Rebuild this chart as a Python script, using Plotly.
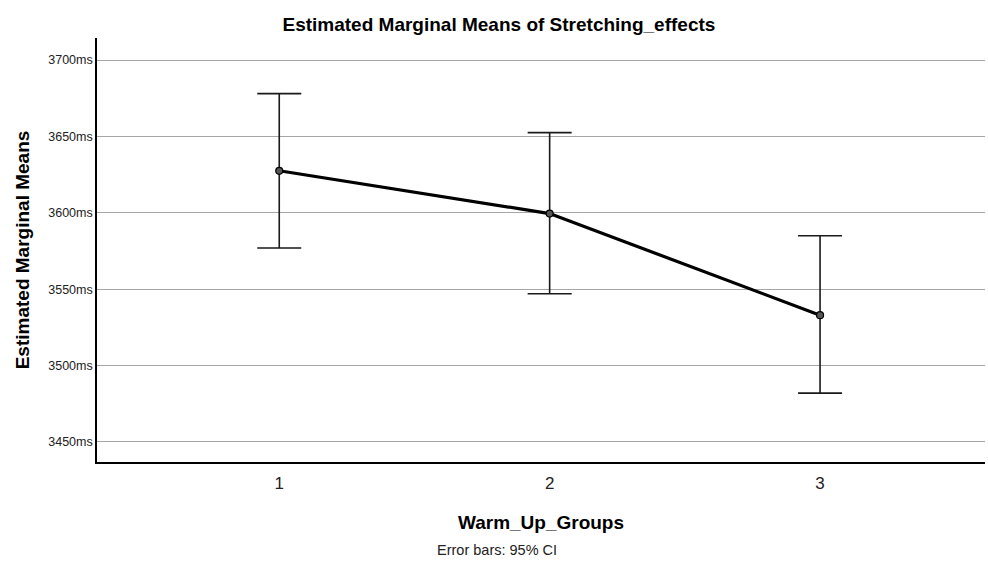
import plotly.graph_objects as go

groups = [1, 2, 3]
means = [3627.5, 3599.5, 3533.0]
ci_upper = [3678.0, 3652.5, 3585.0]
ci_lower = [3577.0, 3547.0, 3482.0]
y_ticks = [3450, 3500, 3550, 3600, 3650, 3700]
y_tick_labels = [f"{v}ms" for v in y_ticks]

err_plus = [u - m for u, m in zip(ci_upper, means)]
err_minus = [m - l for m, l in zip(means, ci_lower)]

fig = go.Figure()
fig.add_trace(go.Scatter(
    x=groups, y=means, mode="lines+markers",
    line=dict(color="black", width=3.2),
    marker=dict(size=7, color="#555555", line=dict(color="black", width=1.2)),
    error_y=dict(type="data", symmetric=False, array=err_plus, arrayminus=err_minus,
                 color="#1a1a1a", thickness=1.6, width=22),
    showlegend=False,
))

fig.update_layout(
    width=988, height=563,
    margin=dict(l=97, r=3, t=38, b=101),
    paper_bgcolor="white", plot_bgcolor="white",
    font=dict(family="Liberation Sans, Arial, sans-serif", color="black"),
    title=dict(text="<b>Estimated Marginal Means of Stretching_effects</b>",
               x=0.505, xanchor="center", y=0.957, yanchor="middle",
               font=dict(size=19)),
    xaxis=dict(range=[0.326, 3.61], tickvals=groups, ticktext=[str(g) for g in groups],
               showgrid=False, zeroline=False, showline=True, linecolor="black", linewidth=1.5,
               ticks="", ticklabelstandoff=5, tickfont=dict(size=17, color="#222222"),
               title=dict(text="<b>Warm_Up_Groups</b>", font=dict(size=19), standoff=24)),
    yaxis=dict(range=[3436.9, 3714.4], tickvals=y_ticks, ticktext=y_tick_labels,
               showgrid=True, gridcolor="#a6a6a6", gridwidth=1.2, zeroline=False,
               showline=True, linecolor="black", linewidth=1.5, ticks="",
               tickfont=dict(size=12.5, color="#222222"),
               title=dict(text="<b>Estimated Marginal Means</b>", font=dict(size=19), standoff=14)),
    annotations=[dict(text="Error bars: 95% CI", xref="paper", yref="paper",
                      x=0.45, y=-0.207, xanchor="center", yanchor="middle",
                      showarrow=False, font=dict(size=14.5, color="#222222"))],
)

fig.write_html("out.html", config={"displayModeBar": False},
               post_script="document.body.style.margin='0px';document.body.style.overflow='hidden';")
